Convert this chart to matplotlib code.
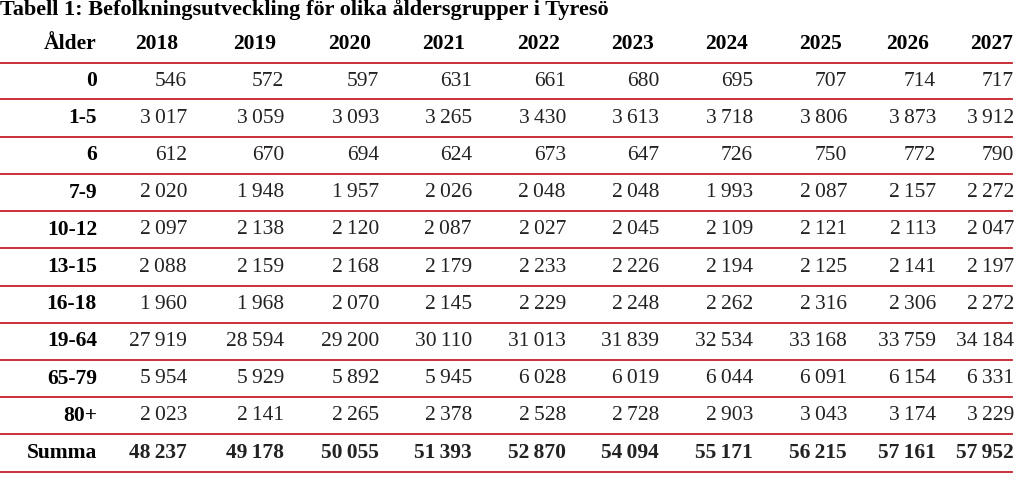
import matplotlib
matplotlib.use("Agg")
import matplotlib.pyplot as plt

title = "Tabell 1: Befolkningsutveckling för olika åldersgrupper i Tyresö"
years = ["2018", "2019", "2020", "2021", "2022", "2023", "2024", "2025", "2026", "2027"]
ages = ["0", "1-5", "6", "7-9", "10-12", "13-15", "16-18", "19-64", "65-79", "80+", "Summa"]
v0 = [546, 572, 597, 631, 661, 680, 695, 707, 714, 717]
v1_5 = [3017, 3059, 3093, 3265, 3430, 3613, 3718, 3806, 3873, 3912]
v6 = [612, 670, 694, 624, 673, 647, 726, 750, 772, 790]
v7_9 = [2020, 1948, 1957, 2026, 2048, 2048, 1993, 2087, 2157, 2272]
v10_12 = [2097, 2138, 2120, 2087, 2027, 2045, 2109, 2121, 2113, 2047]
v13_15 = [2088, 2159, 2168, 2179, 2233, 2226, 2194, 2125, 2141, 2197]
v16_18 = [1960, 1968, 2070, 2145, 2229, 2248, 2262, 2316, 2306, 2272]
v19_64 = [27919, 28594, 29200, 30110, 31013, 31839, 32534, 33168, 33759, 34184]
v65_79 = [5954, 5929, 5892, 5945, 6028, 6019, 6044, 6091, 6154, 6331]
v80 = [2023, 2141, 2265, 2378, 2528, 2728, 2903, 3043, 3174, 3229]
summa = [48237, 49178, 50055, 51393, 52870, 54094, 55171, 56215, 57161, 57952]
rows = [v0, v1_5, v6, v7_9, v10_12, v13_15, v16_18, v19_64, v65_79, v80, summa]

def fmt(n):
    return f"{n:,}".replace(",", "\u202f")

fig = plt.figure(figsize=(10.24, 4.86), dpi=100)
ax = fig.add_axes([0, 0, 1, 1])
ax.set_xlim(0, 1024)
ax.set_ylim(486, 0)
ax.axis("off")
font = "Liberation Serif"
red = "#c8202a"

ax.text(0, 10, title, fontsize=16, fontweight="bold", family=font, va="center", ha="left")
hx = [157, 255, 350, 444, 538, 632, 727, 820, 908, 992]
vx = [187, 284, 379, 472, 566, 659, 753, 847, 936, 1014]
ax.text(97, 44, "Ålder", fontsize=15.5, fontweight="bold", family=font, ha="right", va="center")
for x, y in zip(hx, years):
    ax.text(x, 44, y, fontsize=15.5, fontweight="bold", family=font, ha="center", va="center")
ax.plot([0, 1012], [63, 63], color=red, lw=1.3)
for i, (a, r) in enumerate(zip(ages, rows)):
    y = 81 + i * 37.2
    bold = a == "Summa"
    ax.text(97, y, a, fontsize=15.5, fontweight="bold", family=font, ha="right", va="center")
    for x, v in zip(vx, r):
        ax.text(x, y, fmt(v), fontsize=15.5, family=font, ha="right", va="center",
                fontweight="bold" if bold else "normal", color="#222222")
    ly = y + 18.5
    ax.plot([0, 1012], [ly, ly], color=red, lw=1.3)

fig.savefig("out.png", dpi=100)
